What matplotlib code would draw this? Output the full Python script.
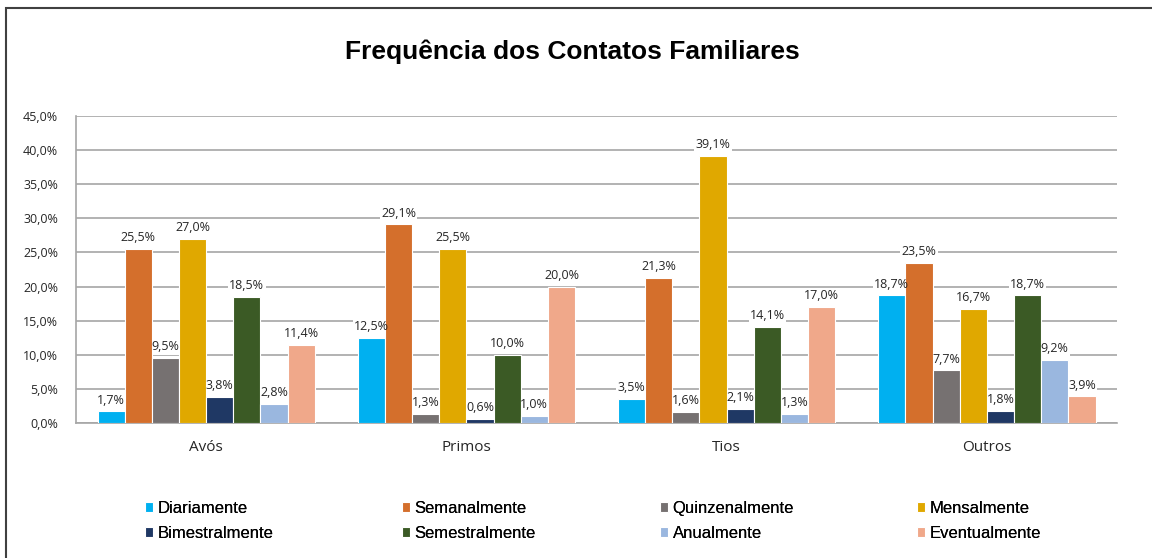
import matplotlib.pyplot as plt
import numpy as np
from matplotlib.patches import Rectangle

categories = ["Avós", "Primos", "Tios", "Outros"]
series = ["Diariamente", "Semanalmente", "Quinzenalmente", "Mensalmente",
          "Bimestralmente", "Semestralmente", "Anualmente", "Eventualmente"]
colors = ["#00B0F0", "#D46F2C", "#767171", "#E0A800",
          "#1F3864", "#3B5A25", "#9AB7DF", "#F0A88A"]

diariamente = [1.7, 12.5, 3.5, 18.7]
semanalmente = [25.5, 29.1, 21.3, 23.5]
quinzenalmente = [9.5, 1.3, 1.6, 7.7]
mensalmente = [27.0, 25.5, 39.1, 16.7]
bimestralmente = [3.8, 0.6, 2.1, 1.8]
semestralmente = [18.5, 10.0, 14.1, 18.7]
anualmente = [2.8, 1.0, 1.3, 9.2]
eventualmente = [11.4, 20.0, 17.0, 3.9]

values = [diariamente, semanalmente, quinzenalmente, mensalmente,
          bimestralmente, semestralmente, anualmente, eventualmente]
yticks = [0, 5, 10, 15, 20, 25, 30, 35, 40, 45]


def pct(v):
    return f"{v:.1f}%".replace(".", ",")


fig = plt.figure(figsize=(11.52, 5.58), dpi=100)
ax = fig.add_axes([0.066, 0.2419, 0.9036, 0.5502])

x = np.arange(len(categories))
n = len(series)
width = 0.835 / n
handles = []
for i, (name, vals, col) in enumerate(zip(series, values, colors)):
    pos = x - 0.835 / 2 + width * (i + 0.5)
    bars = ax.bar(pos, vals, width, color=col, edgecolor="white", linewidth=0.8,
                  label=name, zorder=3)
    handles.append(bars)
    for b, v in zip(bars, vals):
        xy = (b.get_x() + b.get_width() / 2, v)
        # white patch behind the label cuts the gridlines, text sits on top of bars
        ax.annotate(pct(v), xy, xytext=(0, 3.5), textcoords="offset points",
                    ha="center", va="bottom", fontsize=9, color="none",
                    family="Open Sans", zorder=2,
                    bbox=dict(boxstyle="square,pad=0.1", fc="white", ec="none"))
        ax.annotate(pct(v), xy, xytext=(0, 3.5), textcoords="offset points",
                    ha="center", va="bottom", fontsize=9, color="#262626",
                    family="Open Sans", zorder=4)

ax.set_xlim(-0.5, len(categories) - 0.5)
ax.set_ylim(0, 45)
ax.set_yticks(yticks)
ax.set_yticklabels([pct(t) for t in yticks], fontsize=9, family="Open Sans", color="#262626")
ax.set_xticks(x)
ax.set_xticklabels(categories, fontsize=11, family="Open Sans", color="#262626")
ax.tick_params(axis="both", length=0)
ax.tick_params(axis="x", pad=12)
ax.tick_params(axis="y", pad=13)
ax.yaxis.grid(True, color="#A6A6A6", linewidth=1.2, zorder=0)
ax.set_axisbelow(True)
for s in ["top", "right"]:
    ax.spines[s].set_visible(False)
ax.spines["left"].set_color("#A6A6A6")
ax.spines["bottom"].set_color("#A6A6A6")
ax.spines["left"].set_linewidth(1.2)
ax.spines["bottom"].set_linewidth(1.2)

fig.text(0.497, 1 - 52 / 558, "Frequência dos Contatos Familiares", ha="center", va="center",
         fontsize=19, fontweight="bold", family="Liberation Sans")

# legend: four columns of two entries
col_x = [145 / 1152, 402 / 1152, 660 / 1152, 917 / 1152]
for c in range(4):
    hs = [handles[c], handles[c + 4]]
    labs = [series[c], series[c + 4]]
    leg = fig.legend(hs, labs, loc="upper left", bbox_to_anchor=(col_x[c], 1 - 501 / 558),
                     frameon=False, handlelength=0.45, handleheight=0.55, handletextpad=0.3,
                     labelspacing=0.62, borderpad=0, borderaxespad=0,
                     prop={"family": "Liberation Sans", "size": 12})
    fig.add_artist(leg)

# outer chart frame
fig.add_artist(Rectangle((6 / 1152, -0.1), 1.2, 1 - 8 / 558 + 0.1, transform=fig.transFigure,
                         fill=False, edgecolor="#404040", linewidth=1.5))

fig.savefig("out.png", dpi=100)
